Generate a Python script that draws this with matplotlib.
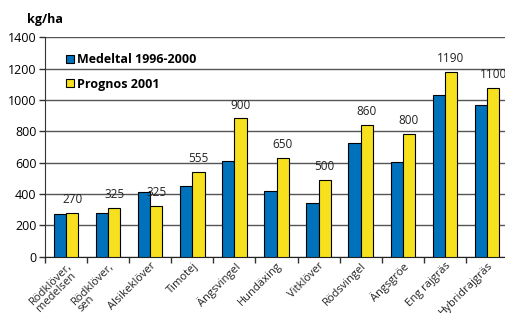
import numpy as np
import matplotlib.pyplot as plt
import matplotlib.transforms as mtransforms
from matplotlib.patches import Patch

plt.rcParams['font.family'] = ['Open Sans', 'DejaVu Sans']

# Data
categories = ['Rödklöver,\nmedelsen', 'Rödklöver,\nsen', 'Alsikeklöver', 'Timotej',
              'Ängsvingel', 'Hundäxing', 'Vitklöver', 'Rödsvingel', 'Ängsgröe',
              'Eng rajgräs', 'Hybridrajgräs']
medeltal = [270, 277, 415, 451, 608, 417, 342, 725, 604, 1029, 965]
prognos = [277, 312, 325, 538, 882, 631, 489, 838, 784, 1176, 1076]
prognos_labels = ['270', '325', '325', '555', '900', '650', '500', '860', '800', '1190', '1100']
yticks = [0, 200, 400, 600, 800, 1000, 1200, 1400]

color_blue = '#0071bb'
color_yellow = '#f7e11e'
width = 0.29

fig = plt.figure(figsize=(5.05, 3.13), dpi=100)
ax = fig.add_axes([45 / 505, 1 - 256.7 / 313, 463 / 505, (256.7 - 37.3) / 313])

x = np.arange(len(categories))
h_blue = ax.bar(x - 0.5 * width, medeltal, width, color=color_blue,
                edgecolor='black', linewidth=0.8, zorder=3)
h_yellow = ax.bar(x + 0.5 * width, prognos, width, color=color_yellow,
                  edgecolor='black', linewidth=0.8, zorder=3)

# Value labels above the yellow bars
for xi, val, lab in zip(x, prognos, prognos_labels):
    ax.annotate(lab, (xi + 0.5 * width, val), xytext=(0, 5), textcoords='offset points',
                ha='center', va='bottom', fontsize=8.5, color='#222222')

ax.set_xlim(-0.5, len(categories) - 0.5)
ax.set_ylim(0, 1400)
ax.set_yticks(yticks)
ax.set_yticklabels([str(t) for t in yticks], fontsize=9)
ax.yaxis.grid(True, color='#555555', linewidth=1.0, zorder=0)
ax.set_axisbelow(True)

# Category labels at the centres, tick marks at the boundaries
ax.set_xticks(x)
ax.set_xticklabels(categories, rotation=45, ha='right', va='top',
                   rotation_mode='anchor', fontsize=8, multialignment='left',
                   linespacing=0.85, color='#222222')
shift = mtransforms.ScaledTranslation(4 / 100, 0, fig.dpi_scale_trans)
for lbl in ax.get_xticklabels():
    lbl.set_transform(lbl.get_transform() + shift)
ax.tick_params(axis='x', which='major', length=0, pad=2.5)
ax.set_xticks(np.arange(len(categories) + 1) - 0.5, minor=True)
ax.tick_params(axis='x', which='minor', length=4, width=1, direction='out', color='#333333')
ax.tick_params(axis='y', length=4, width=1, direction='out', color='#333333', pad=2)

for s in ['top', 'right']:
    ax.spines[s].set_visible(False)
ax.spines['left'].set_color('#333333')
ax.spines['bottom'].set_color('#222222')

fig.text(27 / 505, 1 - 20 / 313, 'kg/ha', fontsize=9, fontweight='bold',
         ha='left', va='center')

handles = [Patch(facecolor=color_blue, edgecolor='black', linewidth=0.8),
           Patch(facecolor=color_yellow, edgecolor='black', linewidth=0.8)]
leg = ax.legend(handles, ['Medeltal 1996-2000', 'Prognos 2001'],
                loc='upper left', bbox_to_anchor=(0.035, 0.95), frameon=False,
                prop={'size': 9, 'weight': 'bold'}, handlelength=0.6, handleheight=0.6,
                handletextpad=0.3, labelspacing=0.9, borderaxespad=0)

fig.savefig('out.png', dpi=100)
